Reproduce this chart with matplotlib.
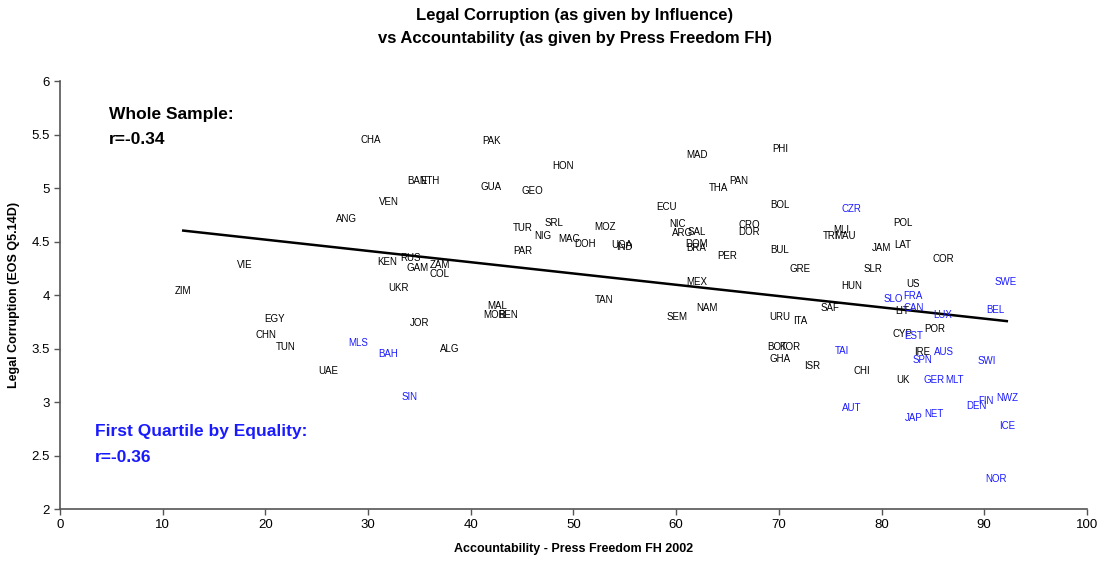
import numpy as np
import matplotlib
matplotlib.use("Agg")
import matplotlib.pyplot as plt

plt.rcParams['font.family'] = ['Liberation Sans', 'DejaVu Sans']

# country codes, press freedom score, legal corruption score
names = ['CHA', 'PAK', 'HON', 'MAD', 'PHI', 'BAN', 'ETH', 'GUA', 'GEO', 'THA',
         'PAN', 'VEN', 'ANG', 'ECU', 'BOL', 'POL', 'TUR', 'SRL', 'NIG', 'MOZ',
         'MAC', 'DOH', 'NIC', 'ARG', 'SAL', 'CRO', 'DOR', 'MLI', 'TRI', 'MAU',
         'JAM', 'LAT', 'COR', 'SLR', 'US', 'HUN', 'SAF', 'LIT', 'CYP', 'POR',
         'IRE', 'BOT', 'KOR', 'GHA', 'ISR', 'CHI', 'UK', 'ITA', 'URU', 'SEM',
         'NAM', 'TAN', 'MEX', 'MAL', 'MOR', 'BEN', 'ALG', 'JOR', 'EGY', 'CHN',
         'TUN', 'UAE', 'ZIM', 'VIE', 'KEN', 'RUS', 'GAM', 'ZAM', 'COL', 'UKR',
         'PAR', 'UGA', 'IND', 'DOM', 'BRA', 'PER', 'BUL', 'GRE']
xs = [30.3, 42.0, 49.0, 62.0, 70.1, 34.8, 36.0, 42.0, 46.0, 64.1,
      66.1, 32.0, 27.9, 59.1, 70.1, 82.1, 45.1, 48.1, 47.0, 53.1,
      49.6, 51.1, 60.1, 60.6, 62.0, 67.1, 67.1, 76.1, 75.0, 76.4,
      80.0, 82.1, 86.0, 79.2, 83.1, 77.1, 75.0, 82.0, 82.0, 85.2,
      84.0, 69.8, 71.1, 70.1, 73.2, 78.1, 82.1, 72.1, 70.1, 60.1,
      63.0, 53.0, 62.0, 42.6, 42.3, 43.6, 38.0, 35.0, 20.9, 20.1,
      22.0, 26.1, 12.0, 18.0, 31.9, 34.1, 34.8, 37.0, 37.0, 33.0,
      45.1, 54.7, 55.0, 62.0, 62.0, 65.0, 70.1, 72.1]
ys = [5.45, 5.44, 5.21, 5.31, 5.36, 5.07, 5.07, 5.01, 4.97, 5.00,
      5.07, 4.87, 4.71, 4.82, 4.84, 4.67, 4.63, 4.67, 4.55, 4.64,
      4.52, 4.48, 4.66, 4.58, 4.59, 4.65, 4.59, 4.61, 4.55, 4.55,
      4.44, 4.47, 4.34, 4.24, 4.10, 4.08, 3.88, 3.85, 3.64, 3.68,
      3.47, 3.51, 3.51, 3.40, 3.34, 3.29, 3.21, 3.76, 3.79, 3.79,
      3.88, 3.95, 4.12, 3.90, 3.81, 3.81, 3.50, 3.74, 3.78, 3.63,
      3.51, 3.29, 4.04, 4.28, 4.31, 4.35, 4.25, 4.28, 4.20, 4.07,
      4.41, 4.47, 4.45, 4.48, 4.44, 4.36, 4.42, 4.24]

# first quartile by equality
q_names = ['CZR', 'SLO', 'FRA', 'CAN', 'LUX', 'BEL', 'SWE', 'EST', 'TAI', 'AUS',
           'SPN', 'SWI', 'GER', 'MLT', 'AUT', 'JAP', 'NET', 'DEN', 'FIN', 'NWZ',
           'ICE', 'NOR', 'MLS', 'BAH', 'SIN']
q_xs = [77.1, 81.1, 83.1, 83.1, 86.0, 91.1, 92.1, 83.1, 76.1, 86.1,
        84.0, 90.2, 85.1, 87.1, 77.1, 83.1, 85.1, 89.2, 90.2, 92.2,
        92.2, 91.1, 29.0, 32.0, 34.0]
q_ys = [4.80, 3.96, 3.99, 3.88, 3.81, 3.86, 4.12, 3.62, 3.48, 3.47,
        3.39, 3.38, 3.21, 3.21, 2.94, 2.85, 2.89, 2.96, 3.01, 3.04,
        2.78, 2.28, 3.55, 3.45, 3.05]

blue = '#1a1aff'

fig = plt.figure(figsize=(10.99, 5.65), dpi=100)
ax = fig.add_axes([0.0546, 0.0991, 0.9344, 0.7575])

for n, x, y in zip(names, xs, ys):
    ax.text(x, y, n, fontsize=7, ha='center', va='center', color='black')
for n, x, y in zip(q_names, q_xs, q_ys):
    ax.text(x, y, n, fontsize=7, ha='center', va='center', color=blue)

# linear trend over whole sample
all_x = np.array(xs + q_xs)
all_y = np.array(ys + q_ys)
coef = np.polyfit(all_x, all_y, 1)
tx = np.array([all_x.min(), all_x.max()])
ax.plot(tx, coef[0] * tx + coef[1], color='black', lw=1.8)

ax.set_xlim(0, 100)
ax.set_ylim(2, 6)
ax.set_xticks(np.arange(0, 101, 10))
ax.set_yticks(np.arange(2, 6.01, 0.5))
ax.set_yticklabels(['2', '2.5', '3', '3.5', '4', '4.5', '5', '5.5', '6'])
ax.tick_params(labelsize=9.5, length=4, color='#555555', width=1)
for s in ['top', 'right']:
    ax.spines[s].set_visible(False)
for s in ['left', 'bottom']:
    ax.spines[s].set_color('#555555')
    ax.spines[s].set_linewidth(1.2)

ax.set_xlabel('Accountability - Press Freedom FH 2002', fontsize=9, fontweight='bold', labelpad=8)
ax.set_ylabel('Legal Corruption (EOS Q5.14D)', fontsize=9, fontweight='bold', labelpad=8)

ax.text(4.8, 5.69, 'Whole Sample:', fontsize=12.5, fontweight='bold', va='center')
ax.text(4.8, 5.45, 'r=-0.34', fontsize=12.5, fontweight='bold', va='center')
ax.text(3.4, 2.72, 'First Quartile by Equality:', fontsize=12.5, fontweight='bold', va='center', color=blue)
ax.text(3.4, 2.48, 'r=-0.36', fontsize=12.5, fontweight='bold', va='center', color=blue)

fig.text(0.523, 0.972, 'Legal Corruption (as given by Influence)', fontsize=12,
         fontweight='bold', ha='center', va='center')
fig.text(0.523, 0.931, 'vs Accountability (as given by Press Freedom FH)', fontsize=12,
         fontweight='bold', ha='center', va='center')

fig.savefig('out.png', dpi=100)
